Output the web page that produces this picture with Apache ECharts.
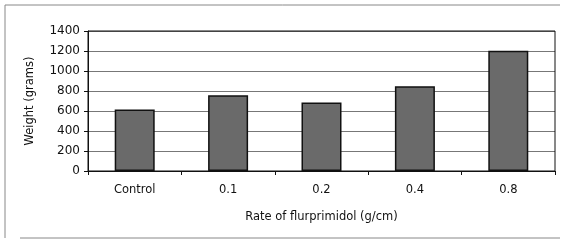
<!DOCTYPE html>
<html>
<head>
<meta charset="utf-8">
<script src="https://cdn.jsdelivr.net/npm/echarts@6/dist/echarts.min.js"></script>
<style>
  html, body { margin: 0; padding: 0; background: #fff; }
  #chart { width: 567px; height: 241px; }
</style>
</head>
<body>
<div id="chart"></div>
<script>
// chart data
var categories = ['Control', '0.1', '0.2', '0.4', '0.8'];
var weights = [615, 757, 685, 848, 1203];

var myChart = echarts.init(document.getElementById('chart'));

var font = 'DejaVu Sans';

myChart.setOption({
  animation: false,
  grid: { left: 88, right: 12, top: 31, bottom: 70 },
  graphic: [
    // sketchy outer frame
    { type: 'line', shape: { x1: 5, y1: 5, x2: 560, y2: 5 }, style: { stroke: '#888', lineWidth: 1 } },
    { type: 'line', shape: { x1: 5, y1: 5, x2: 5, y2: 238 }, style: { stroke: '#888', lineWidth: 1 } },
    { type: 'line', shape: { x1: 20, y1: 238, x2: 560, y2: 238 }, style: { stroke: '#888', lineWidth: 1 } },
    // plot area border
    { type: 'rect', shape: { x: 88, y: 31, width: 467, height: 140 }, style: { fill: 'none', stroke: '#111', lineWidth: 1 }, z: 10 }
  ],
  xAxis: {
    type: 'category',
    data: categories,
    name: 'Rate of flurprimidol (g/cm)',
    nameLocation: 'middle',
    nameGap: 40,
    nameTextStyle: { fontFamily: font, fontSize: 11.5, color: '#111' },
    axisLine: { lineStyle: { color: '#111', width: 1 } },
    axisTick: { show: true, length: 4, lineStyle: { color: '#111' } },
    axisLabel: { fontFamily: font, fontSize: 11.5, color: '#111', margin: 13 }
  },
  yAxis: {
    type: 'value',
    min: 0,
    max: 1400,
    interval: 200,
    name: 'Weight (grams)',
    nameLocation: 'middle',
    nameGap: 52,
    nameTextStyle: { fontFamily: font, fontSize: 11.5, color: '#111' },
    axisLine: { show: true, lineStyle: { color: '#111', width: 1 } },
    axisTick: { show: true, length: 4, lineStyle: { color: '#111' } },
    axisLabel: { fontFamily: font, fontSize: 12, color: '#111', margin: 8, formatter: function (v) { return String(v); } },
    splitLine: { lineStyle: { color: '#777', width: 1 } }
  },
  series: [
    {
      type: 'bar',
      data: weights,
      barWidth: 40,
      itemStyle: { color: '#6a6a6a', borderColor: '#111', borderWidth: 1.5 }
    }
  ]
});
</script>
</body>
</html>
